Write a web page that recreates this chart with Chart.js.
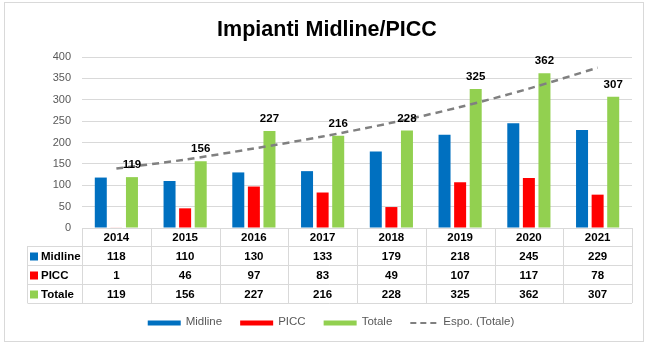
<!DOCTYPE html>
<html>
<head>
<meta charset="utf-8">
<script src="https://cdn.jsdelivr.net/npm/chart.js@4.4.1/dist/chart.umd.min.js"></script>
<style>
  html, body { margin: 0; padding: 0; background: #fff; }
  #wrap { width: 654px; height: 344px; position: relative; }
</style>
</head>
<body>
<div id="wrap"><canvas id="chart"></canvas></div>
<script>
// --- dati ---
const titolo = 'Impianti Midline/PICC';
const anni = ['2014', '2015', '2016', '2017', '2018', '2019', '2020', '2021'];
const midline = [118, 110, 130, 133, 179, 218, 245, 229];
const picc = [1, 46, 97, 83, 49, 107, 117, 78];
const totale = [119, 156, 227, 216, 228, 325, 362, 307];
// linea di tendenza esponenziale
const espoTotale = [139, 160, 186, 214, 246, 283, 326, 375];

const colori = { midline: '#0070C0', picc: '#FF0000', totale: '#92D050', trend: '#808080' };
const FONT = '"Liberation Sans", Arial, sans-serif';
const GRIGIO = '#d9d9d9';

// cornice esterna + titolo (centrato sulla cornice, non sull'area del grafico)
const cornice = {
  id: 'cornice',
  beforeDraw(chart) {
    const c = chart.ctx;
    c.save();
    c.fillStyle = '#fff';
    c.fillRect(0, 0, chart.width, chart.height);
    c.strokeStyle = GRIGIO;
    c.lineWidth = 1;
    c.strokeRect(4.5, 2.5, 639, 339);
    c.font = 'bold 21.5px ' + FONT;
    c.fillStyle = '#000';
    c.textAlign = 'center';
    c.textBaseline = 'middle';
    c.fillText(titolo, 327, 30);
    c.restore();
  }
};

// etichette sopra le barre "Totale"
const etichette = {
  id: 'etichette',
  afterDatasetsDraw(chart) {
    const c = chart.ctx;
    const meta = chart.getDatasetMeta(2);
    c.save();
    c.font = 'bold 11.5px ' + FONT;
    c.fillStyle = '#000';
    c.textAlign = 'center';
    c.textBaseline = 'middle';
    meta.data.forEach((el, i) => c.fillText(totale[i], el.x, el.y - 12));
    c.restore();
  }
};

// tabella dati sotto l'asse x
const tabella = {
  id: 'tabella',
  afterDraw(chart) {
    const c = chart.ctx;
    const a = chart.chartArea;
    const n = anni.length;
    const w = (a.right - a.left) / n;
    const top = a.bottom;
    const hHead = 18, hRow = 19;
    const righe = [
      { nome: 'Midline', val: midline, col: colori.midline },
      { nome: 'PICC', val: picc, col: colori.picc },
      { nome: 'Totale', val: totale, col: colori.totale }
    ];
    const xSin = 27.5;
    const bottom = top + hHead + hRow * righe.length;
    c.save();
    c.strokeStyle = GRIGIO;
    c.lineWidth = 1;
    c.beginPath();
    for (let r = 0; r <= righe.length; r++) {
      const y = Math.round(top + hHead + r * hRow) + 0.5;
      c.moveTo(xSin, y); c.lineTo(a.right, y);
    }
    c.moveTo(xSin, top + hHead); c.lineTo(xSin, bottom);
    for (let i = 0; i <= n; i++) {
      const x = Math.round(a.left + i * w) + 0.5;
      c.moveTo(x, top); c.lineTo(x, bottom);
    }
    c.stroke();

    c.font = 'bold 11.5px ' + FONT;
    c.fillStyle = '#000';
    c.textAlign = 'center';
    c.textBaseline = 'middle';
    anni.forEach((t, i) => c.fillText(t, a.left + (i + 0.5) * w, top + hHead / 2 + 1));
    righe.forEach((r, k) => {
      const yc = top + hHead + k * hRow + hRow / 2 + 1;
      c.fillStyle = r.col;
      c.fillRect(30, yc - 4, 8, 8);
      c.fillStyle = '#000';
      c.textAlign = 'left';
      c.fillText(r.nome, 41, yc);
      c.textAlign = 'center';
      r.val.forEach((v, i) => c.fillText(v, a.left + (i + 0.5) * w, yc));
    });
    c.restore();
  }
};

// legenda in basso
const legenda = {
  id: 'legenda',
  afterDraw(chart) {
    const c = chart.ctx;
    const voci = [
      { nome: 'Midline', col: colori.midline, tipo: 'box' },
      { nome: 'PICC', col: colori.picc, tipo: 'box' },
      { nome: 'Totale', col: colori.totale, tipo: 'box' },
      { nome: 'Espo. (Totale)', col: colori.trend, tipo: 'linea' }
    ];
    const sw = 33, gap = 5, spazio = 18, y = 323;
    c.save();
    c.font = '11.5px ' + FONT;
    c.textBaseline = 'middle';
    const larghezze = voci.map(v => (v.tipo === 'box' ? sw : 28) + gap + c.measureText(v.nome).width);
    const tot = larghezze.reduce((s, l) => s + l, 0) + spazio * (voci.length - 1);
    let x = chart.width / 2 + 4 - tot / 2;
    voci.forEach((v) => {
      if (v.tipo === 'box') {
        c.fillStyle = v.col;
        c.fillRect(x, y - 2.5, sw, 5);
        x += sw + gap;
      } else {
        c.strokeStyle = v.col;
        c.lineWidth = 2;
        c.setLineDash([6, 4]);
        c.beginPath(); c.moveTo(x, y); c.lineTo(x + 28, y); c.stroke();
        c.setLineDash([]);
        x += 28 + gap;
      }
      c.fillStyle = '#595959';
      c.textAlign = 'left';
      c.fillText(v.nome, x, y - 1);
      x += c.measureText(v.nome).width + spazio;
    });
    c.restore();
  }
};

const ctx = document.getElementById('chart').getContext('2d');
const grafico = new Chart(ctx, {
  type: 'bar',
  data: {
    labels: anni,
    datasets: [
      { label: 'Midline', data: midline, backgroundColor: colori.midline },
      { label: 'PICC', data: picc, backgroundColor: colori.picc },
      { label: 'Totale', data: totale, backgroundColor: colori.totale },
      {
        type: 'line', label: 'Espo. (Totale)', data: espoTotale, order: -1,
        borderColor: colori.trend, borderWidth: 2.5, borderDash: [7, 5],
        pointRadius: 0, fill: false, tension: 0.3
      }
    ]
  },
  options: {
    responsive: true,
    maintainAspectRatio: false,
    animation: false,
    datasets: { bar: { categoryPercentage: 0.68, barPercentage: 0.77 } },
    layout: { padding: { top: 57, left: 0, right: 22, bottom: 41 } },
    scales: {
      x: {
        ticks: { display: false },
        grid: { display: false },
        border: { display: false },
        afterFit: s => { s.height = 75; }
      },
      y: {
        min: 0, max: 400,
        ticks: { stepSize: 50, color: '#595959', font: { family: FONT, size: 11 }, padding: 11 },
        grid: { color: GRIGIO, drawTicks: false },
        border: { display: false },
        afterFit: s => { s.width = 82; }
      }
    },
    plugins: {
      legend: { display: false },
      tooltip: { enabled: false },
      title: { display: false }
    }
  },
  plugins: [cornice, etichette, tabella, legenda]
});
</script>
</body>
</html>
